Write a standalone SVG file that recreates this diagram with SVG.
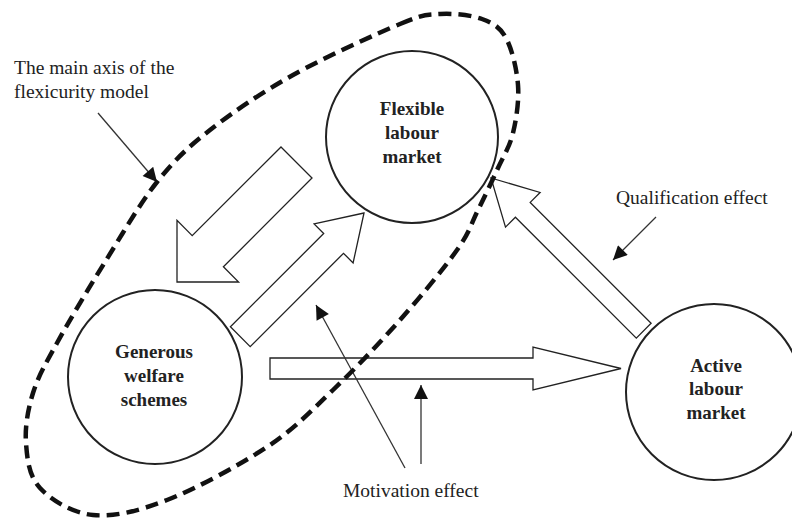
<svg xmlns="http://www.w3.org/2000/svg" width="792" height="518" viewBox="0 0 792 518">
<style>
.node{fill:#fff;stroke:#222;stroke-width:2}
.lbl{font-family:"Liberation Serif","Times New Roman",serif;font-size:19px;font-weight:bold;fill:#222;text-anchor:middle}
.txt{font-family:"Liberation Serif","Times New Roman",serif;font-size:19.5px;fill:#222}
.block{fill:none;stroke:#222;stroke-width:1.3;stroke-linejoin:miter}
.ptr{stroke:#333;stroke-width:1.3;fill:none}
.axis{fill:none;stroke:#111;stroke-width:4.5;stroke-dasharray:13 7}
</style>
<defs>
<marker id="ah" viewBox="0 0 10 10" refX="10" refY="5" markerUnits="userSpaceOnUse" markerWidth="16" markerHeight="14" orient="auto">
<path d="M0,0 L10,5 L0,10 z" fill="#111"/>
</marker>
</defs>
<rect width="792" height="518" fill="#fff"/>
<g id="node-flexible">
<circle class="node" cx="412" cy="137" r="86"/>
<text class="lbl" x="412" y="115">Flexible</text>
<text class="lbl" x="412" y="139">labour</text>
<text class="lbl" x="412" y="163">market</text>
</g>
<g id="node-generous">
<circle class="node" cx="155" cy="377" r="87"/>
<text class="lbl" x="154" y="358">Generous</text>
<text class="lbl" x="154" y="382">welfare</text>
<text class="lbl" x="154" y="406">schemes</text>
</g>
<g id="node-active">
<circle class="node" cx="714" cy="392" r="88"/>
<text class="lbl" x="716" y="372">Active</text>
<text class="lbl" x="716" y="395">labour</text>
<text class="lbl" x="716" y="419">market</text>
</g>
<g id="connectors">
<polygon class="block" points="281,147 312,178 223.4,266.8 238.6,282 177,282 177,220.4 192.2,235.6"/>
<polygon class="block" points="364,213 314.1,223.9 323.7,233.5 230.4,326.8 250.2,346.6 343.5,253.3 353.1,262.9"/>
<polygon class="block" points="491,178 540.1,192.5 530.2,202.4 651.1,323.3 636.3,338.1 515.4,217.2 505.5,227.1"/>
<polygon class="block" points="270,358 533,358 533,347 621,368.5 533,390 533,379 270,379"/>
<line class="ptr" x1="98" y1="113" x2="157" y2="182" marker-end="url(#ah)"/>
<line class="ptr" x1="656" y1="217" x2="613" y2="260" marker-end="url(#ah)"/>
<line class="ptr" x1="405" y1="468" x2="316" y2="305" marker-end="url(#ah)"/>
<line class="ptr" x1="421" y1="464" x2="421" y2="385" marker-end="url(#ah)"/>
</g>
<g id="axis-ellipse">
<path class="axis" d="M400,24 C424.5,13.8 426.3,14.8 440,14 C453.7,13.2 471,15 482,19 C493,23 500,27 506,38 C512,49 516.8,69.2 518,85 C519.2,100.8 516.3,119.2 513,133 C509.7,146.8 503.8,155.2 498,168 C492.2,180.8 484.8,196.3 478,210 C471.2,223.7 470,231.7 457,250 C444,268.3 420.7,296.7 400,320 C379.3,343.3 355.2,368.8 333,390 C310.8,411.2 294.7,428.7 267,447 C239.3,465.3 196,488.7 167,500 C138,511.3 114.2,517 93,515 C71.8,513 51.2,500 40,488 C28.8,476 27.2,458.8 26,443 C24.8,427.2 27.8,409.7 33,393 C38.2,376.3 45,364.8 57,343 C69,321.2 88.3,288.8 105,262 C121.7,235.2 139.5,204 157,182 C174.5,160 187.3,147.8 210,130 C232.7,112.2 261.3,92.7 293,75 C324.7,57.3 375.5,34.2 400,24 Z"/>
</g>
<g id="labels">
<text class="txt" x="14" y="74">The main axis of the</text>
<text class="txt" x="14" y="98">flexicurity model</text>
<text class="txt" x="616" y="204">Qualification effect</text>
<text class="txt" x="343" y="497">Motivation effect</text>
</g>
</svg>
